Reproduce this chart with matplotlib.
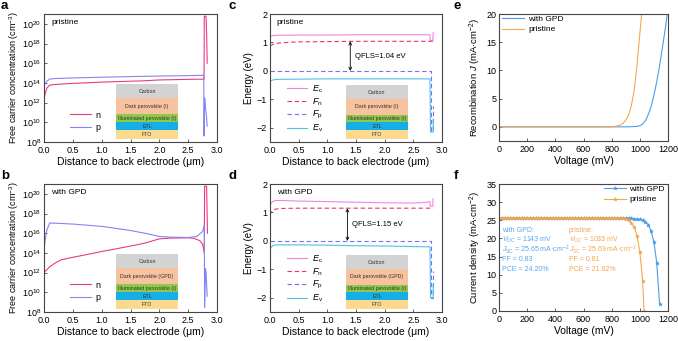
import matplotlib
matplotlib.use('Agg')
import matplotlib.pyplot as plt

plt.rcParams['font.family'] = ['Liberation Sans', 'DejaVu Sans']
plt.rcParams['mathtext.fontset'] = 'custom'
plt.rcParams['mathtext.rm'] = 'Liberation Sans'
plt.rcParams['mathtext.it'] = 'Liberation Sans:italic'
plt.rcParams['mathtext.bf'] = 'Liberation Sans:bold'

# ---- panel a: carrier concentration, pristine ----
a_x_n = [0.0, 0.02, 0.05, 0.1, 0.2, 0.5, 1.0, 1.5, 1.7, 2.0, 2.5, 2.775, 2.78, 2.81, 2.82, 2.83]
a_n = [2.3e12, 8e12, 3e13, 6e13, 7e13, 9e13, 1.2e14, 1.5e14, 1.6e14, 2e14, 2.3e14, 2.4e14, 6e20, 6e20, 1e19, 1e16]
a_x_p = [0.0, 0.02, 0.05, 0.1, 0.2, 0.5, 1.0, 1.5, 2.0, 2.5, 2.77, 2.775, 2.785, 2.79, 2.80, 2.82, 2.83]
a_p = [5e13, 8e13, 1.5e14, 2.5e14, 2.8e14, 3.2e14, 3.8e14, 4.4e14, 5e14, 5.5e14, 6e14, 4e8, 3e12, 2e12, 3e11, 3e10, 4e9]

# ---- panel b: carrier concentration, with GPD ----
b_x_n = [0.0, 0.05, 0.1, 0.2, 0.3, 0.5, 0.75, 1.0, 1.25, 1.5, 1.7, 1.8, 1.9, 2.0, 2.2, 2.5,
         2.6, 2.7, 2.75, 2.78, 2.785, 2.82, 2.825, 2.835]
b_n = [1e12, 2e12, 4e12, 1e13, 2e13, 3.6e13, 7e13, 1.4e14, 2.6e14, 5e14, 8.5e14, 1.2e15, 1.8e15, 2.7e15,
       3.2e15, 3.4e15, 3e15, 1.8e15, 8e14, 1e14, 6e20, 6e20, 1e19, 1e16]
b_x_p = [0.0, 0.02, 0.05, 0.1, 0.2, 0.5, 1.0, 1.5, 1.8, 2.0, 2.2, 2.5, 2.65, 2.75, 2.78, 2.785,
         2.80, 2.81, 2.83]
b_p = [1.4e14, 2e15, 2.2e16, 1.1e17, 1.05e17, 8.5e16, 5e16, 1.9e16, 8.7e15, 4.7e15, 4e15, 3.7e15,
       4.7e15, 1.5e16, 7e16, 3e8, 2.7e12, 1e12, 4e9]

# ---- panel c: band diagram, pristine ----
c_x_ec = [0.0, 0.05, 0.1, 0.5, 1.0, 1.5, 2.0, 2.5, 2.79, 2.795, 2.84, 2.845]
c_ec = [1.22, 1.24, 1.25, 1.26, 1.26, 1.27, 1.27, 1.27, 1.27, 1.06, 1.06, 1.34]
c_x_fn = [0.0, 0.05, 0.1, 0.2, 0.3, 0.5, 1.0, 1.5, 2.0, 2.5, 2.845]
c_fn = [0.88, 0.93, 0.96, 0.99, 1.0, 1.02, 1.03, 1.04, 1.04, 1.04, 1.04]
c_x_fp = [0.0, 1.0, 2.0, 2.80, 2.80, 2.845, 2.845]
c_fp = [0.0, 0.0, 0.0, 0.0, -2.1, -2.1, -1.25]
c_x_ev = [0.0, 0.05, 0.1, 0.5, 1.0, 2.0, 2.79, 2.80, 2.845, 2.845]
c_ev = [-0.36, -0.32, -0.30, -0.29, -0.28, -0.28, -0.28, -2.15, -2.15, -1.7]
c_qfls = 1.04

# ---- panel d: band diagram, with GPD ----
d_x_ec = [0.0, 0.02, 0.05, 0.1, 0.2, 0.5, 1.0, 1.5, 2.0, 2.5, 2.7, 2.79, 2.795, 2.84, 2.845]
d_ec = [1.25, 1.33, 1.39, 1.42, 1.42, 1.40, 1.38, 1.36, 1.34, 1.33, 1.35, 1.38, 1.22, 1.22, 1.48]
d_x_fn = [0.0, 0.02, 0.05, 0.1, 0.2, 0.5, 1.0, 2.0, 2.845]
d_fn = [0.90, 1.0, 1.07, 1.12, 1.14, 1.15, 1.15, 1.15, 1.15]
d_x_fp = [0.0, 1.0, 2.0, 2.80, 2.80, 2.845, 2.845]
d_fp = [0.0, 0.0, 0.0, 0.0, -2.0, -2.0, -1.05]
d_x_ev = [0.0, 0.02, 0.05, 0.1, 0.5, 1.0, 1.5, 2.0, 2.5, 2.79, 2.80, 2.845, 2.845]
d_ev = [-0.30, -0.22, -0.17, -0.14, -0.14, -0.15, -0.17, -0.18, -0.20, -0.21, -2.0, -2.0, -1.55]
d_qfls = 1.15

# ---- panel e: recombination current ----
e_v_gpd = [0, 200, 400, 600, 800, 900, 940, 980, 1000, 1020, 1040, 1060, 1080, 1100, 1120, 1140, 1160, 1180, 1195]
e_j_gpd = [0, 0, 0, 0, 0, 0.01, 0.03, 0.1, 0.22, 0.5, 1.1, 2.2, 3.6, 5.6, 8.0, 10.8, 14.0, 17.3, 20.0]
e_v_pri = [0, 200, 400, 600, 700, 780, 820, 860, 880, 900, 920, 940, 960, 980, 1000, 1015]
e_j_pri = [0, 0, 0, 0, 0, 0.02, 0.08, 0.3, 0.6, 1.2, 2.1, 3.8, 6.5, 11.0, 16.5, 20.5]

# ---- panel f: J-V curves ----
f_v_gpd = [0, 20, 40, 60, 80, 100, 120, 140, 160, 180, 200, 220, 240, 260, 280, 300, 320, 340, 360, 380,
           400, 420, 440, 460, 480, 500, 520, 540, 560, 580, 600, 620, 640, 660, 680, 700, 720, 740, 760, 780,
           800, 820, 840, 860, 880, 900, 920, 940, 960, 980, 1000, 1020, 1040, 1060, 1080, 1100, 1120, 1140]
f_j_gpd = [25.65, 25.65, 25.65, 25.65, 25.65, 25.65, 25.65, 25.65, 25.65, 25.65, 25.65, 25.65, 25.65, 25.65,
           25.65, 25.65, 25.65, 25.65, 25.65, 25.65, 25.65, 25.65, 25.65, 25.65, 25.65, 25.65, 25.65, 25.65,
           25.65, 25.65, 25.65, 25.65, 25.65, 25.65, 25.65, 25.65, 25.65, 25.65, 25.65, 25.65, 25.65, 25.65,
           25.64, 25.63, 25.62, 25.60, 25.56, 25.50, 25.42, 25.30, 25.30, 25.0, 24.6, 23.8, 22.0, 19.0, 13.3, 2.0]
f_v_pri = [0, 20, 40, 60, 80, 100, 120, 140, 160, 180, 200, 220, 240, 260, 280, 300, 320, 340, 360, 380,
           400, 420, 440, 460, 480, 500, 520, 540, 560, 580, 600, 620, 640, 660, 680, 700, 720, 740, 760, 780,
           800, 820, 840, 860, 880, 900, 920, 940, 960, 980, 1000, 1020, 1030]
f_j_pri = [25.69, 25.69, 25.69, 25.69, 25.69, 25.69, 25.69, 25.69, 25.69, 25.69, 25.69, 25.69, 25.69, 25.69,
           25.69, 25.69, 25.69, 25.69, 25.69, 25.69, 25.69, 25.69, 25.69, 25.69, 25.69, 25.69, 25.69, 25.69,
           25.69, 25.69, 25.69, 25.69, 25.69, 25.69, 25.69, 25.69, 25.69, 25.69, 25.69, 25.69, 25.69, 25.67,
           25.65, 25.6, 25.5, 25.3, 25.0, 24.3, 23.1, 20.8, 16.3, 8.3, 0.0]
f_gpd_stats = ['with GPD:', '$V_{\\rm OC}$ = 1143 mV', '$J_{\\rm SC}$ = 25.65 mA·cm$^{-2}$', 'FF = 0.83', 'PCE = 24.20%']
f_pri_stats = ['pristine:', '$V_{\\rm OC}$ = 1033 mV', '$J_{\\rm SC}$ = 25.69 mA·cm$^{-2}$', 'FF = 0.81', 'PCE = 21.62%']

# layer stack labels, top to bottom
stack_pristine = ['Carbon', 'Dark perovskite (I)', 'Illuminated perovskite (I)', 'ETL', 'FTO']
stack_gpd = ['Carbon', 'Dark perovskite (GPD)', 'Illuminated perovskite (I)', 'ETL', 'FTO']
stack_colors = ['#d3d3d3', '#f8c29f', '#8dc94b', '#16aee6', '#fbd98d']
stack_heights = [14, 16, 8, 8, 9]

N_COLOR = '#ea3a82'
P_COLOR = '#8484f4'
EC_COLOR = '#ee84ea'
FN_COLOR = '#e8356e'
FP_COLOR = '#7f6ef0'
EV_COLOR = '#4ec3e6'
GPD_COLOR = '#4d9de9'
PRI_COLOR = '#f4a752'
SPINE = '#454545'

W, H = 678, 341


def px_axes(fig, l, t, r, b):
    return fig.add_axes([l / W, 1 - b / H, (r - l) / W, (b - t) / H])


def style_axes(ax):
    ax.tick_params(direction='in', length=2.5, width=0.6, labelsize=6.5, pad=2, color=SPINE)
    ax.tick_params(axis='x', pad=3)
    for s in ax.spines.values():
        s.set_linewidth(0.8)
        s.set_color(SPINE)


def draw_stack(ax, box, names):
    ins = ax.inset_axes(box)
    top = sum(stack_heights)
    for name, color, h in zip(names, stack_colors, stack_heights):
        ins.bar(0.5, h, bottom=top - h, width=1.0, color=color, linewidth=0)
        ins.text(0.5, top - h / 2, name, ha='center', va='center', fontsize=3.8, color='#333333')
        top -= h
    ins.set_xlim(0, 1)
    ins.set_ylim(0, sum(stack_heights))
    ins.axis('off')


def plot_carriers(ax, xn, n, xp, p, tag, names):
    ax.plot(xn, n, color=N_COLOR, lw=0.8, label='n')
    ax.plot(xp, p, color=P_COLOR, lw=0.8, label='p')
    ax.set_yscale('log')
    ax.set_ylim(1e8, 1e21)
    ax.set_yticks([1e8, 1e10, 1e12, 1e14, 1e16, 1e18, 1e20])
    ax.minorticks_off()
    ax.set_xlim(0, 3)
    ax.set_xticks([0, 0.5, 1.0, 1.5, 2.0, 2.5, 3.0])
    ax.set_xticklabels(['0.0', '0.5', '1.0', '1.5', '2.0', '2.5', '3.0'])
    ax.set_xlabel('Distance to back electrode (μm)', fontsize=7.5, labelpad=1)
    ax.set_ylabel('Free carrier concentration (cm$^{-3}$)', fontsize=6.5, labelpad=1)
    ax.text(0.04, 0.93, tag, transform=ax.transAxes, fontsize=6, va='center')
    ax.legend(loc='lower left', bbox_to_anchor=(0.15, 0.08), frameon=False, fontsize=6.5,
              handlelength=2.3, handletextpad=0.5, labelspacing=0.35, borderpad=0, borderaxespad=0)
    draw_stack(ax, [0.416, 0.023, 0.359, 0.43], names)
    style_axes(ax)


def plot_bands(ax, xec, ec, xfn, fn, xfp, fp, xev, ev, qfls, tag, names, arrow_x):
    ax.plot(xec, ec, color=EC_COLOR, lw=0.8, label='$E_{\\rm c}$')
    ax.plot(xfn, fn, color=FN_COLOR, lw=0.8, ls=(0, (4, 2.5)), label='$F_{\\rm n}$')
    ax.plot(xfp, fp, color=FP_COLOR, lw=0.8, ls=(0, (4, 2.5)), label='$F_{\\rm p}$')
    ax.plot(xev, ev, color=EV_COLOR, lw=0.8, label='$E_{\\rm v}$')
    ax.annotate('', xy=(arrow_x, 0), xytext=(arrow_x, qfls),
                arrowprops=dict(arrowstyle='<->', lw=0.6, color='k', shrinkA=0, shrinkB=0, mutation_scale=5))
    ax.text(arrow_x + 0.08, qfls / 2, f'QFLS={qfls:.2f} eV', fontsize=5.5, va='center')
    ax.set_xlim(0, 3)
    ax.set_ylim(-2.5, 2)
    ax.set_yticks([-2, -1, 0, 1, 2])
    ax.set_xticks([0, 0.5, 1.0, 1.5, 2.0, 2.5, 3.0])
    ax.set_xticklabels(['0.0', '0.5', '1.0', '1.5', '2.0', '2.5', '3.0'])
    ax.set_xlabel('Distance to back electrode (μm)', fontsize=7.5, labelpad=1)
    ax.set_ylabel('Energy (eV)', fontsize=7, labelpad=2)
    ax.text(0.04, 0.93, tag, transform=ax.transAxes, fontsize=6, va='center')
    ax.legend(loc='lower left', bbox_to_anchor=(0.1, 0.06), frameon=False, fontsize=6.5,
              handlelength=2.2, handletextpad=0.5, labelspacing=0.15, borderpad=0, borderaxespad=0)
    draw_stack(ax, [0.442, 0.023, 0.36, 0.42], names)
    style_axes(ax)


def main():
    fig = plt.figure(figsize=(W / 100, H / 100), dpi=100)

    ax_a = px_axes(fig, 44, 14, 217, 142)
    ax_b = px_axes(fig, 44, 184, 217, 312)
    ax_c = px_axes(fig, 270, 14, 442, 142)
    ax_d = px_axes(fig, 270, 184, 442, 312)
    ax_e = px_axes(fig, 499, 14, 668, 141)
    ax_f = px_axes(fig, 499, 184, 668, 311)

    plot_carriers(ax_a, a_x_n, a_n, a_x_p, a_p, 'pristine', stack_pristine)
    plot_carriers(ax_b, b_x_n, b_n, b_x_p, b_p, 'with GPD', stack_gpd)
    plot_bands(ax_c, c_x_ec, c_ec, c_x_fn, c_fn, c_x_fp, c_fp, c_x_ev, c_ev, c_qfls,
               'pristine', stack_pristine, 1.4)
    plot_bands(ax_d, d_x_ec, d_ec, d_x_fn, d_fn, d_x_fp, d_fp, d_x_ev, d_ev, d_qfls,
               'with GPD', stack_gpd, 1.35)

    # e: recombination current
    ax_e.plot(e_v_gpd, e_j_gpd, color=GPD_COLOR, lw=0.8, label='with GPD')
    ax_e.plot(e_v_pri, e_j_pri, color=PRI_COLOR, lw=0.8, label='pristine')
    ax_e.set_xlim(0, 1200)
    ax_e.set_ylim(-2.5, 20)
    ax_e.set_xticks([0, 200, 400, 600, 800, 1000, 1200])
    ax_e.set_yticks([0, 5, 10, 15, 20])
    ax_e.set_xlabel('Voltage (mV)', fontsize=7.5, labelpad=1)
    ax_e.set_ylabel('Recombination $J$ (mA·cm$^{-2}$)', fontsize=6.8, labelpad=2)
    ax_e.legend(loc='upper left', bbox_to_anchor=(0.02, 0.99), frameon=False, fontsize=6,
                handlelength=2.6, handletextpad=0.5, labelspacing=0.3, borderpad=0, borderaxespad=0)
    style_axes(ax_e)

    # f: J-V
    ax_f.plot(f_v_gpd, f_j_gpd, color=GPD_COLOR, lw=0.8, marker='*', ms=2.8, mew=0.4, label='with GPD')
    ax_f.plot(f_v_pri, f_j_pri, color=PRI_COLOR, lw=0.8, marker='*', ms=2.8, mew=0.4, label='pristine')
    ax_f.set_xlim(0, 1200)
    ax_f.set_ylim(0, 35)
    ax_f.set_xticks([0, 200, 400, 600, 800, 1000, 1200])
    ax_f.set_yticks([0, 5, 10, 15, 20, 25, 30, 35])
    ax_f.set_xlabel('Voltage (mV)', fontsize=7.5, labelpad=1)
    ax_f.set_ylabel('Current density (mA·cm$^{-2}$)', fontsize=6.8, labelpad=2)
    ax_f.legend(loc='upper right', bbox_to_anchor=(0.98, 0.99), frameon=False, fontsize=6,
                handlelength=2.6, handletextpad=0.4, labelspacing=0.3, borderpad=0, borderaxespad=0)
    rows = [22.2, 19.5, 16.8, 14.1, 11.4]
    for y, s in zip(rows, f_gpd_stats):
        ax_f.text(20, y, s, color='#58a6ee', fontsize=5.0, va='center')
    for y, s in zip(rows, f_pri_stats):
        ax_f.text(495, y, s, color='#f2a64f', fontsize=5.0, va='center')
    style_axes(ax_f)

    for lab, x, y in [('a', 1, 0), ('b', 1, 170), ('c', 228, 0), ('d', 228, 170), ('e', 454, 0), ('f', 454, 170)]:
        fig.text(x / W, 1 - y / H, lab, fontsize=9.5, fontweight='bold', va='top', ha='left')

    fig.savefig('out.png', dpi=100)
    plt.close(fig)


if __name__ == '__main__':
    main()
